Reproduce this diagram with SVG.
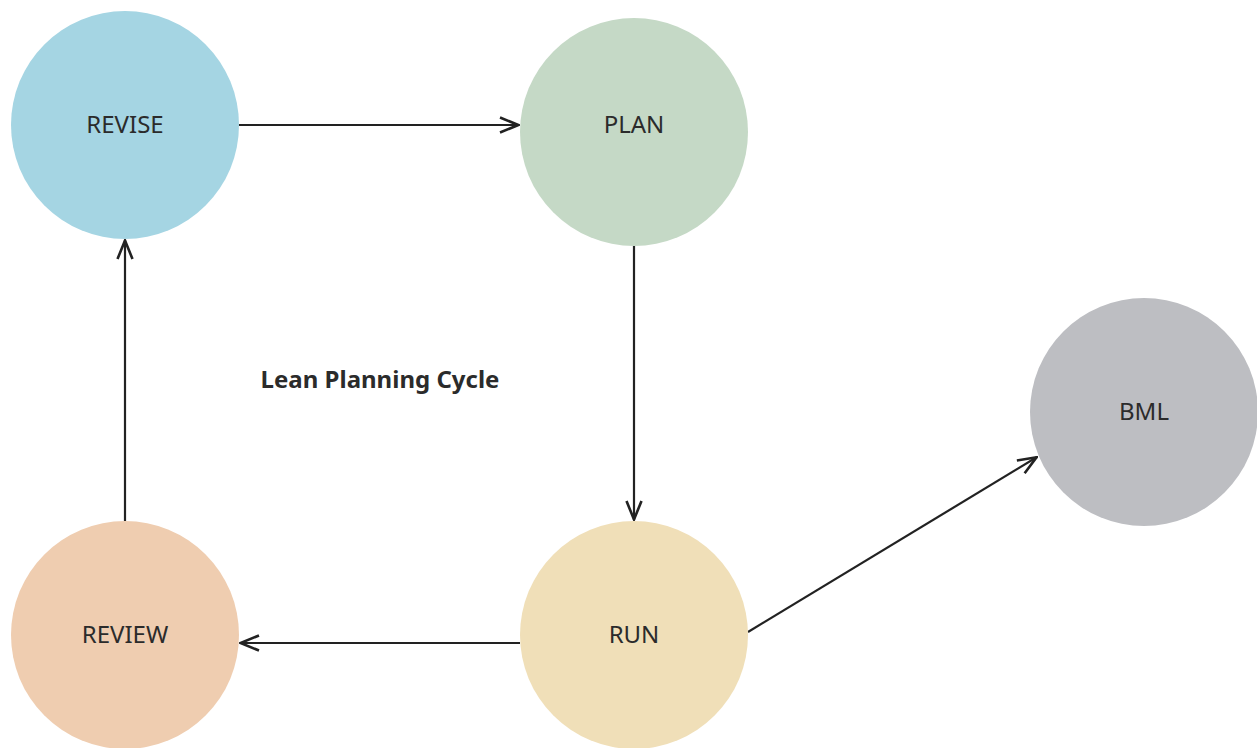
<svg xmlns="http://www.w3.org/2000/svg" width="1257" height="748" viewBox="0 0 1257 748">
<style>
.lbl{font-family:"Noto Sans","Open Sans",sans-serif;font-size:24px;fill:#2b2b2b;text-anchor:middle}
.title{font-family:"Noto Sans","Open Sans",sans-serif;font-size:24px;font-weight:bold;fill:#2b2b2b;text-anchor:middle}
.edge{stroke:#222;stroke-width:2.2;fill:none;marker-end:url(#arr)}
</style>
<defs>
<marker id="arr" viewBox="0 0 22 18" refX="21" refY="9" markerWidth="22" markerHeight="18" markerUnits="userSpaceOnUse" orient="auto">
<path d="M2,1.5 L20.5,9 L2,16.5" fill="none" stroke="#222" stroke-width="2.6"/>
</marker>
</defs>
<rect width="1257" height="748" fill="#fff"/>
<g id="connectors">
<line class="edge" x1="239" y1="125" x2="519" y2="125"/>
<line class="edge" x1="634" y1="238" x2="634" y2="520"/>
<line class="edge" x1="520" y1="643" x2="240" y2="643"/>
<line class="edge" x1="125" y1="521" x2="125" y2="240"/>
<line class="edge" x1="748" y1="632" x2="1037" y2="457"/>
</g>
<g id="revise"><circle cx="125" cy="125" r="114" fill="#a5d5e3"/><text class="lbl" x="125" y="133">REVISE</text></g>
<g id="plan"><circle cx="634" cy="132" r="114" fill="#c5d9c6"/><text class="lbl" x="634" y="133">PLAN</text></g>
<g id="bml"><circle cx="1144" cy="412" r="114" fill="#bdbec2"/><text class="lbl" x="1144" y="420">BML</text></g>
<g id="review"><circle cx="125" cy="635" r="114" fill="#efcdb0"/><text class="lbl" x="125" y="643">REVIEW</text></g>
<g id="run"><circle cx="634" cy="635" r="114" fill="#f0dfb8"/><text class="lbl" x="634" y="643">RUN</text></g>
<text class="title" x="380" y="388">Lean Planning Cycle</text>
</svg>
